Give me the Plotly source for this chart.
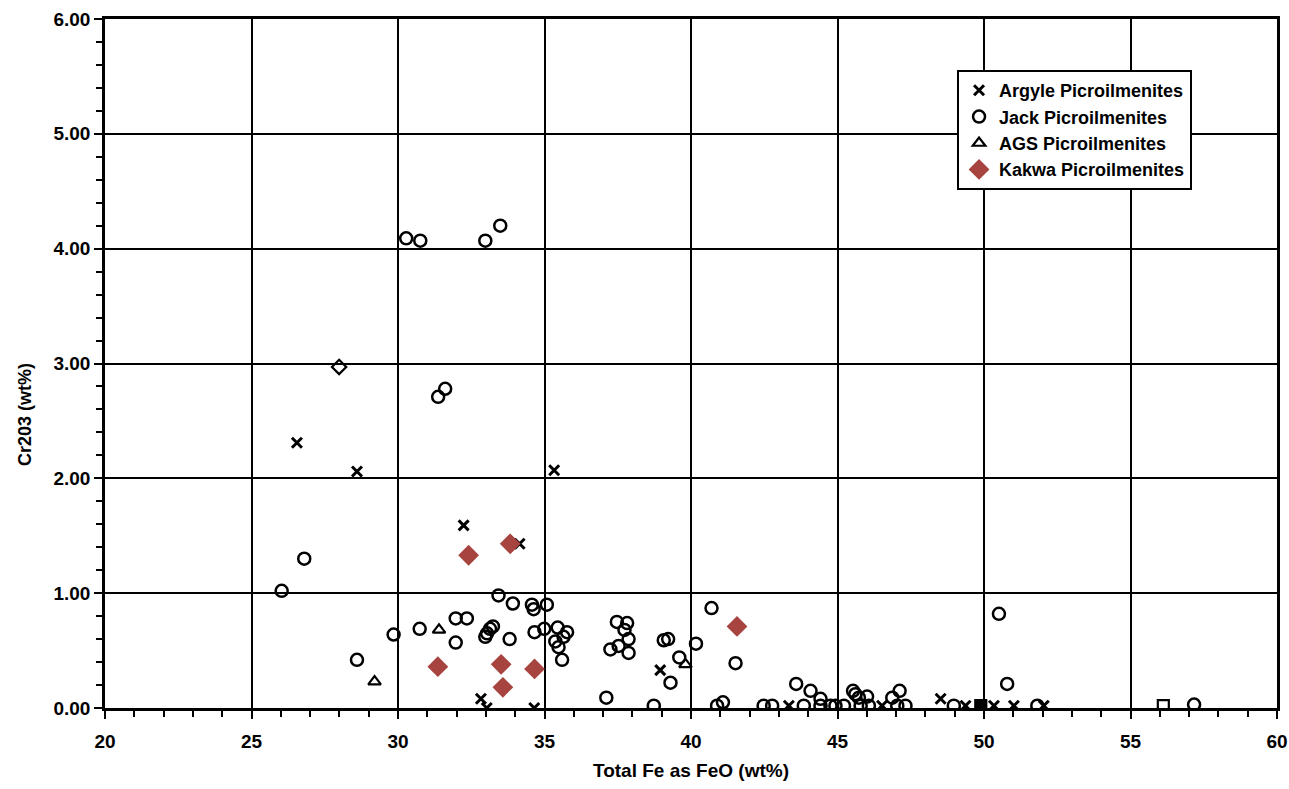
import plotly.graph_objects as go

# ---- data (Total Fe as FeO wt%, Cr2O3 wt%) ----
argyle_x = [26.55, 28.60, 35.33, 32.24, 34.15, 32.83, 33.03, 34.65, 38.95, 43.34, 46.52,
            48.52, 49.37, 50.34, 51.02, 52.04]
argyle_y = [2.31, 2.06, 2.07, 1.59, 1.43, 0.08, 0.00, 0.00, 0.33, 0.02, 0.02,
            0.08, 0.02, 0.02, 0.02, 0.02]

jack_x = [30.28, 30.76, 32.98, 33.49, 31.37, 31.61, 26.03, 26.80, 28.60, 29.85, 30.74,
          31.97, 32.35, 31.97, 33.43, 33.92, 34.57, 34.63, 35.08, 32.98, 33.04, 33.14,
          33.24, 33.81, 34.66, 34.99, 35.45, 35.77, 35.65, 35.37, 35.48, 35.60, 37.47,
          37.82, 37.73, 37.87, 37.53, 37.25, 37.87, 37.11, 38.73, 39.07, 39.22, 39.60,
          39.30, 40.17, 40.70, 41.52, 40.89, 41.09, 42.48, 42.77, 43.85, 43.59, 44.08,
          44.42, 44.42, 44.76, 44.93, 45.22, 45.53, 45.61, 45.73, 46.01, 45.79, 46.07,
          46.87, 47.12, 47.04, 47.32, 48.97, 50.51, 50.79, 51.82, 57.17]
jack_y = [4.09, 4.07, 4.07, 4.20, 2.71, 2.78, 1.02, 1.30, 0.42, 0.64, 0.69,
          0.78, 0.78, 0.57, 0.98, 0.91, 0.90, 0.86, 0.90, 0.62, 0.65, 0.69,
          0.71, 0.60, 0.66, 0.69, 0.70, 0.66, 0.62, 0.58, 0.53, 0.42, 0.75,
          0.74, 0.68, 0.60, 0.54, 0.51, 0.48, 0.09, 0.02, 0.59, 0.60, 0.44,
          0.22, 0.56, 0.87, 0.39, 0.02, 0.05, 0.02, 0.02, 0.02, 0.21, 0.15,
          0.08, 0.02, 0.02, 0.02, 0.02, 0.15, 0.12, 0.09, 0.10, 0.02, 0.02,
          0.09, 0.15, 0.02, 0.02, 0.02, 0.82, 0.21, 0.02, 0.03]

ags_x = [29.20, 31.40, 39.81]
ags_y = [0.23, 0.68, 0.38]

kakwa_x = [32.41, 33.83, 31.36, 33.52, 33.58, 34.66, 41.57]
kakwa_y = [1.33, 1.43, 0.36, 0.38, 0.18, 0.34, 0.71]

other_x = [27.99, 56.12, 49.89]
other_y = [2.97, 0.02, 0.02]
other_sym = ["diamond-open", "square-open", "square"]

x_ticks = [20, 25, 30, 35, 40, 45, 50, 55, 60]
y_ticks = [0, 1, 2, 3, 4, 5, 6]
y_labels = ["0.00", "1.00", "2.00", "3.00", "4.00", "5.00", "6.00"]

FONT = "Liberation Sans, Arial, sans-serif"

fig = go.Figure()
fig.add_trace(go.Scatter(x=argyle_x, y=argyle_y, mode="markers", name="Argyle Picroilmenites",
                         marker=dict(symbol="x-thin", size=10, color="black",
                                     line=dict(color="black", width=3))))
fig.add_trace(go.Scatter(x=jack_x, y=jack_y, mode="markers", name="Jack Picroilmenites",
                         marker=dict(symbol="circle-open", size=12, color="black",
                                     line=dict(color="black", width=2.5))))
fig.add_trace(go.Scatter(x=ags_x, y=ags_y, mode="markers", name="AGS Picroilmenites",
                         marker=dict(symbol="triangle-up-open", size=11, color="black",
                                     line=dict(color="black", width=2.2))))
fig.add_trace(go.Scatter(x=kakwa_x, y=kakwa_y, mode="markers", name="Kakwa Picroilmenites",
                         marker=dict(symbol="diamond", size=16, color="#A8443F",
                                     line=dict(width=0))))
fig.add_trace(go.Scatter(x=other_x, y=other_y, mode="markers", showlegend=False,
                         marker=dict(symbol=other_sym, size=11, color="black",
                                     line=dict(color="black", width=2.2))))

axis_common = dict(showline=True, linecolor="black", linewidth=2.5, mirror=True,
                   showgrid=True, gridcolor="black", gridwidth=2,
                   ticks="outside", ticklen=8, tickwidth=2, tickcolor="black",
                   zeroline=False, automargin=False, ticklabeloverflow="allow",
                   tickfont=dict(family=FONT, size=19, color="black", weight="bold"))

fig.update_xaxes(range=[20, 60], tickvals=x_ticks, ticklabelstandoff=6,
                 minor=dict(dtick=1, ticks="outside", ticklen=6, tickwidth=2,
                            tickcolor="black", showgrid=False),
                 title=dict(text="Total Fe as FeO (wt%)", standoff=14,
                            font=dict(family=FONT, size=19, color="black", weight="bold")),
                 **axis_common)
fig.update_yaxes(range=[0, 6], tickvals=y_ticks, ticktext=y_labels,
                 minor=dict(dtick=0.2, ticks="outside", ticklen=6, tickwidth=2,
                            tickcolor="black", showgrid=False),
                 **axis_common)

fig.add_annotation(text="Cr203 (wt%)", xref="paper", yref="paper",
                   x=(25 - 105) / 1172, y=(708 - 415) / 689, textangle=-90,
                   showarrow=False, xanchor="center", yanchor="middle",
                   font=dict(family=FONT, size=18, color="black", weight="bold"))

fig.update_layout(
    width=1289, height=789,
    margin=dict(l=105, r=12, t=19, b=81),
    paper_bgcolor="white", plot_bgcolor="white",
    legend=dict(x=0.727, y=0.926, xanchor="left", yanchor="top",
                bgcolor="white", bordercolor="black", borderwidth=2,
                font=dict(family=FONT, size=18, color="black", weight="bold"),
                tracegroupgap=0, itemwidth=30),
)

fig.write_html("out.html")
